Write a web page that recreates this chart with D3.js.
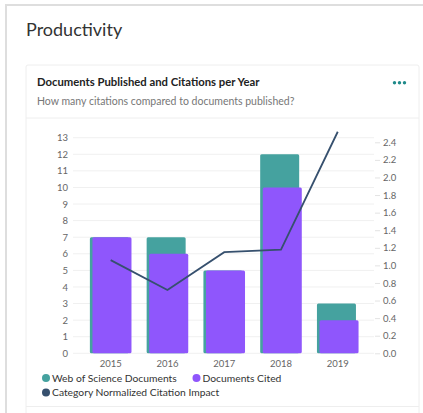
<!DOCTYPE html>
<html>
<head>
<meta charset="utf-8">
<script src="https://cdn.jsdelivr.net/npm/d3@7"></script>
<style>
  html, body { margin: 0; padding: 0; background: #fff; }
  svg { display: block; font-family: "Source Sans Pro", Lato, "Open Sans", sans-serif; }
</style>
</head>
<body>
<svg id="chart" width="423" height="413"></svg>
<script>
// chart values
const years = ["2015", "2016", "2017", "2018", "2019"];
const wosDocs = [7, 7, 5, 12, 3];
const docsCited = [7, 6, 5, 10, 2];
const cnci = [1.06, 0.72, 1.15, 1.18, 2.52];
const leftTicks = [0, 1, 2, 3, 4, 5, 6, 7, 8, 9, 10, 11, 12, 13];
const rightTicks = [0, 0.2, 0.4, 0.6, 0.8, 1.0, 1.2, 1.4, 1.6, 1.8, 2.0, 2.2, 2.4];
const legendItems = ["Web of Science Documents", "Documents Cited", "Category Normalized Citation Impact"];

const teal = "#45a29f", purple = "#8f56fc", navy = "#36506e";

const svg = d3.select("#chart");

// outer panel + card
svg.append("rect").attr("x", 6).attr("y", 5).attr("width", 430).attr("height", 420)
    .attr("fill", "#fff").attr("stroke", "#dedede").attr("stroke-width", 2);
svg.append("rect").attr("x", 26).attr("y", 65).attr("width", 393).attr("height", 360)
    .attr("fill", "#fff").attr("stroke", "#eeeeee").attr("rx", 2);
svg.append("line").attr("x1", 26).attr("x2", 419).attr("y1", 118).attr("y2", 118).attr("stroke", "#eeeeee");
svg.append("line").attr("x1", 26).attr("x2", 419).attr("y1", 406.5).attr("y2", 406.5).attr("stroke", "#eeeeee");

svg.append("text").attr("x", 26).attr("y", 36).text("Productivity")
    .style("font-size", "18px").style("fill", "#333");
svg.append("text").attr("x", 37).attr("y", 86).text("Documents Published and Citations per Year")
    .style("font-size", "11.3px").style("font-weight", "bold").style("fill", "#222");
svg.append("text").attr("x", 37).attr("y", 104.5).text("How many citations compared to documents published?")
    .style("font-size", "10.5px").style("fill", "#777");

// more menu dots
svg.selectAll("circle.dot").data([0, 1, 2]).enter().append("circle")
    .attr("cx", d => 394.5 + d * 5).attr("cy", 82.7).attr("r", 1.7).attr("fill", "#1f8a8a");

// scales
const x = d3.scaleBand().domain(years).range([82.5, 366]).paddingInner(0.266).paddingOuter(0.13);
const yL = d3.scaleLinear().domain([0, 13]).range([353.3, 137.7]);
const yR = d3.scaleLinear().domain([0, 2.4]).range([353.3, 142.3]);

const chart = svg.append("g");

// gridlines
chart.selectAll("line.grid").data(leftTicks).enter().append("line")
    .attr("x1", 73).attr("x2", 374)
    .attr("y1", d => yL(d)).attr("y2", d => yL(d))
    .attr("stroke", "#f0f0f0").attr("stroke-width", 1);

// left axis
const leftAxis = chart.append("g").attr("transform", "translate(72,0)")
    .call(d3.axisLeft(yL).tickValues(leftTicks).tickSize(0).tickPadding(4).tickFormat(d3.format("d")));
leftAxis.select(".domain").remove();
leftAxis.selectAll("text").style("font-size", "9.5px").style("fill", "#666")
    .style("font-family", "\"Source Sans Pro\", Lato, sans-serif");

// right axis
const rightAxis = chart.append("g").attr("transform", "translate(375,0)")
    .call(d3.axisRight(yR).tickValues(rightTicks).tickSize(5).tickPadding(3).tickFormat(d3.format(".1f")));
rightAxis.select(".domain").remove();
rightAxis.selectAll("line").attr("stroke", "#e3e3e3");
rightAxis.selectAll("text").style("font-size", "9.5px").style("fill", "#666")
    .style("font-family", "\"Source Sans Pro\", Lato, sans-serif");

// x axis labels
const xAxis = chart.append("g").attr("transform", "translate(0,355)")
    .call(d3.axisBottom(x).tickSize(0).tickPadding(5));
xAxis.select(".domain").remove();
xAxis.selectAll("text").style("font-size", "9.5px").style("fill", "#666")
    .style("font-family", "\"Source Sans Pro\", Lato, sans-serif");

const barW = 39, shift = 2.6;

// Web of Science documents bars
chart.selectAll("rect.wos").data(years).enter().append("rect")
    .attr("x", d => x(d))
    .attr("y", (d, i) => yL(wosDocs[i]))
    .attr("width", barW)
    .attr("height", (d, i) => yL(0) - yL(wosDocs[i]))
    .attr("rx", 1.5)
    .attr("fill", teal);

// documents cited bars
chart.selectAll("rect.cited").data(years).enter().append("rect")
    .attr("x", d => x(d) + shift)
    .attr("y", (d, i) => yL(docsCited[i]))
    .attr("width", barW)
    .attr("height", (d, i) => yL(0) - yL(docsCited[i]))
    .attr("rx", 1.5)
    .attr("fill", purple);

// CNCI line
const line = d3.line()
    .x((d, i) => x(years[i]) + (barW + shift) / 2)
    .y(d => yR(d));
chart.append("path").datum(cnci)
    .attr("d", line)
    .attr("fill", "none")
    .attr("stroke", navy)
    .attr("stroke-width", 1.8);

// legend
const legendPos = [[46, 378], [196.5, 378], [46, 392.5]];
const legendColors = [teal, purple, navy];
const legend = svg.selectAll("g.legend").data(legendItems).enter().append("g")
    .attr("transform", (d, i) => `translate(${legendPos[i][0]},${legendPos[i][1]})`);
legend.append("circle").attr("r", 4).attr("fill", (d, i) => legendColors[i]);
legend.append("text").attr("x", 6).attr("y", 3.8).text(d => d)
    .style("font-size", "10.3px").style("fill", "#333");
</script>
</body>
</html>
